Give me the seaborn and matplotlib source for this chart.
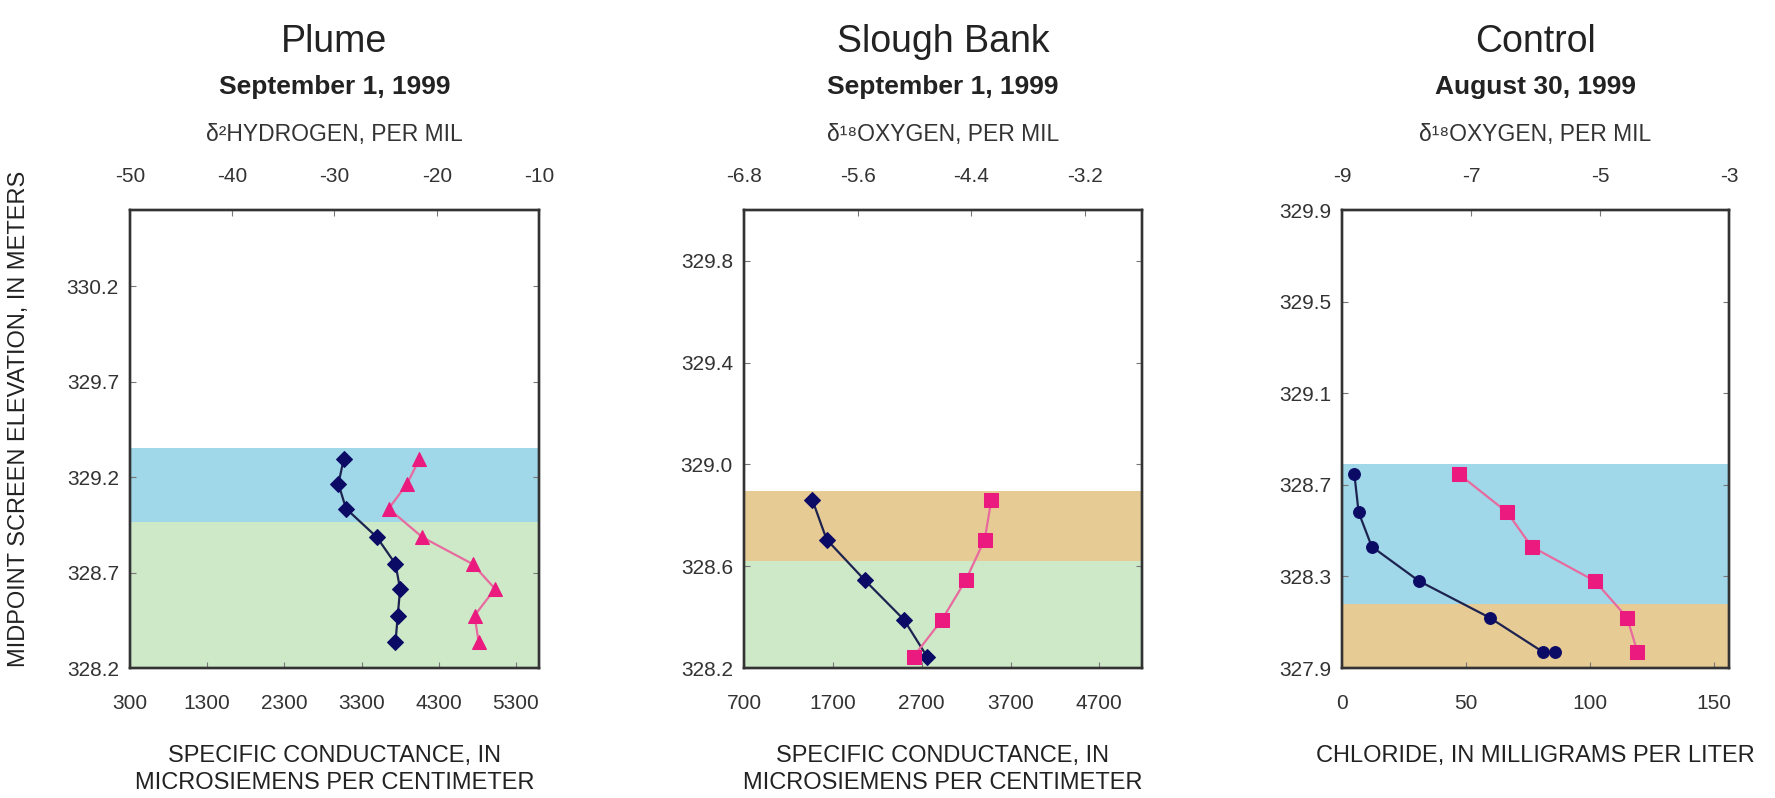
import matplotlib
matplotlib.use("Agg")
import matplotlib.pyplot as plt
import seaborn as sns
import numpy as np

# ---------------- data ----------------
plume_elev = [329.295, 329.165, 329.035, 328.885, 328.745, 328.615, 328.475, 328.335]
plume_sc = [3070, 3000, 3100, 3500, 3740, 3800, 3770, 3740]
plume_d2h = [-21.7, -22.9, -24.7, -21.4, -16.5, -14.3, -16.3, -15.9]

slough_elev = [328.86, 328.705, 328.545, 328.39, 328.245]
slough_sc = [1470, 1630, 2060, 2500, 2760]
slough_d18o = [-4.19, -4.26, -4.46, -4.71, -5.01]

control_elev_cl = [328.745, 328.58, 328.43, 328.28, 328.12, 327.97, 327.97]
control_cl = [5.0, 6.7, 12.0, 31.0, 59.5, 81.0, 86.0]
control_elev_o = [328.745, 328.58, 328.43, 328.28, 328.12, 327.97]
control_d18o = [-7.18, -6.44, -6.06, -5.08, -4.58, -4.42]

titles = ["Plume", "Slough Bank", "Control"]
dates = ["September 1, 1999", "September 1, 1999", "August 30, 1999"]
top_labels = ["\u03b4\u00b2HYDROGEN, PER MIL", "\u03b4\u00b9\u2078OXYGEN, PER MIL", "\u03b4\u00b9\u2078OXYGEN, PER MIL"]
bottom_labels = ["SPECIFIC CONDUCTANCE, IN\nMICROSIEMENS PER CENTIMETER",
                 "SPECIFIC CONDUCTANCE, IN\nMICROSIEMENS PER CENTIMETER",
                 "CHLORIDE, IN MILLIGRAMS PER LITER"]
ylabel = "MIDPOINT SCREEN ELEVATION, IN METERS"

plume_bands = [(328.965, 329.355, "#a0d7e9"), (328.2, 328.965, "#cde9c8")]
slough_bands = [(328.62, 328.895, "#e7cb95"), (328.2, 328.62, "#cde9c8")]
control_bands = [(328.18, 328.79, "#a0d7e9"), (327.9, 328.18, "#e7cb95")]

# ---------------- style ----------------
sns.set_theme(style="white")
plt.rcParams['font.family'] = ['Liberation Sans', 'DejaVu Sans']

NAVY = "#0b0b66"
NAVY_LINE = "#1d2350"
PINK = "#ea1a7f"
PINK_LINE = "#e86a9e"
SPINE = "#333333"
TXT = "#222222"

fig = plt.figure(figsize=(17.75, 7.98), dpi=100)
W, H = 1775, 798

def fy(y):
    return 1 - y / H

def make_axes(left, right, top, bottom):
    return fig.add_axes([left / W, 1 - bottom / H, (right - left) / W, (bottom - top) / H])

TOP, BOT = 210, 668
ax_specs = [(130, 539, TOP, BOT), (744, 1142, TOP, BOT), (1342, 1729, TOP, BOT)]

panels = [
    dict(bands=plume_bands, elev_b=plume_elev, xb=plume_sc, elev_t=plume_elev, xt=plume_d2h,
         bm="D", tm="^", bms=8, tms=10.5,
         xlim=(300, 5600), xticks=[300, 1300, 2300, 3300, 4300, 5300],
         tlim=(-50, -10), tticks=[-50, -40, -30, -20, -10], tfmt="{:.0f}",
         ylim=(328.2, 330.6), yticks=[328.2, 328.7, 329.2, 329.7, 330.2]),
    dict(bands=slough_bands, elev_b=slough_elev, xb=slough_sc, elev_t=slough_elev, xt=slough_d18o,
         bm="D", tm="s", bms=8, tms=9.5,
         xlim=(700, 5180), xticks=[700, 1700, 2700, 3700, 4700],
         tlim=(-6.8, -2.6), tticks=[-6.8, -5.6, -4.4, -3.2], tfmt="{:.1f}",
         ylim=(328.2, 330.0), yticks=[328.2, 328.6, 329.0, 329.4, 329.8]),
    dict(bands=control_bands, elev_b=control_elev_cl, xb=control_cl, elev_t=control_elev_o, xt=control_d18o,
         bm="o", tm="s", bms=8.5, tms=9.5,
         xlim=(0, 156), xticks=[0, 50, 100, 150],
         tlim=(-9, -3), tticks=[-9, -7, -5, -3], tfmt="{:.0f}",
         ylim=(327.9, 329.9), yticks=[327.9, 328.3, 328.7, 329.1, 329.5, 329.9]),
]

TICK_FS = 15
for i, (spec, p) in enumerate(zip(ax_specs, panels)):
    ax = make_axes(*spec)
    for lo, hi, c in p["bands"]:
        ax.axhspan(lo, hi, color=c, lw=0, zorder=0)
    sns.lineplot(x=p["xb"], y=p["elev_b"], ax=ax, sort=False, estimator=None,
                 color=NAVY_LINE, lw=1.6, marker=p["bm"], markersize=p["bms"],
                 markerfacecolor=NAVY, markeredgecolor=NAVY, zorder=3)
    ax.set_xlim(*p["xlim"])
    ax.set_ylim(*p["ylim"])
    ax.set_xticks(p["xticks"])
    ax.set_xticklabels([str(v) for v in p["xticks"]])
    ax.set_yticks(p["yticks"])
    ax.set_yticklabels(["{:.1f}".format(v) for v in p["yticks"]])
    ax.tick_params(axis="both", direction="in", length=4, width=0.8, color="#777777",
                   labelsize=TICK_FS, labelcolor="#333333", right=True, left=True, bottom=True)
    ax.tick_params(axis="y", pad=8)
    ax.tick_params(axis="x", pad=19)
    ax.set_ylabel("")
    ax.set_xlabel(bottom_labels[i], fontsize=17, color=TXT, linespacing=1.3)
    ax.xaxis.label.set_va("top")
    ax.xaxis.set_label_coords((spec[0] + spec[1]) / 2 / W, fy(745), transform=fig.transFigure)
    for s in ax.spines.values():
        s.set_color(SPINE)
        s.set_linewidth(1.7)

    tx = ax.twiny()
    sns.lineplot(x=p["xt"], y=p["elev_t"], ax=tx, sort=False, estimator=None,
                 color=PINK_LINE, lw=1.6, marker=p["tm"], markersize=p["tms"],
                 markerfacecolor=PINK, markeredgecolor=PINK, zorder=3)
    tx.set_xlim(*p["tlim"])
    tx.set_ylim(*p["ylim"])
    tx.set_xticks(p["tticks"])
    tx.set_xticklabels([p["tfmt"].format(v) for v in p["tticks"]])
    tx.tick_params(axis="x", direction="in", length=4, width=0.8, color="#777777",
                   labelsize=TICK_FS, labelcolor="#333333", pad=17)
    tx.set_xlabel(top_labels[i], fontsize=16.5, color="#333333")
    tx.xaxis.label.set_va("center")
    tx.xaxis.set_label_coords((spec[0] + spec[1]) / 2 / W, fy(134), transform=fig.transFigure)
    for s in tx.spines.values():
        s.set_color(SPINE)
        s.set_linewidth(1.7)

    cx = (spec[0] + spec[1]) / 2 / W
    fig.text(cx, fy(42), titles[i], ha="center", va="center", fontsize=27, color=TXT)
    fig.text(cx, fy(87), dates[i], ha="center", va="center", fontsize=19,
             fontweight="bold", color=TXT)

fig.text(19 / W, fy(419), ylabel, rotation=90, ha="center", va="center",
         fontsize=17, color=TXT)

fig.savefig("out.png", dpi=100)
